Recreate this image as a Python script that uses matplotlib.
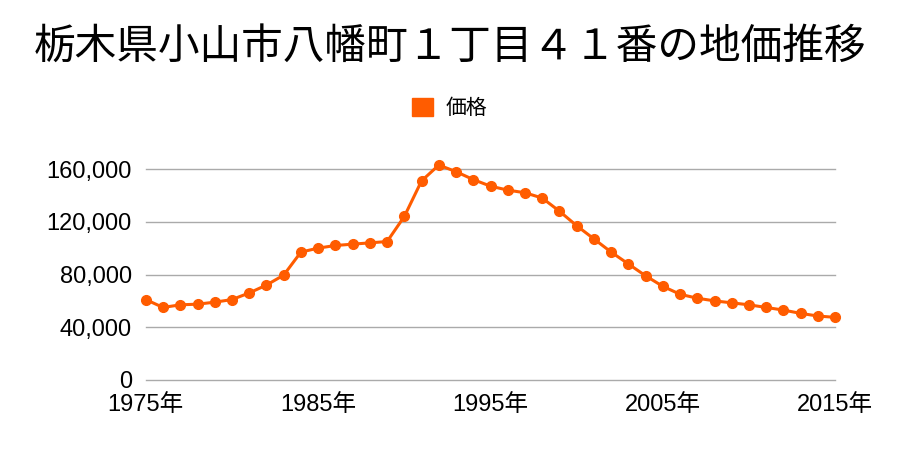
import matplotlib
matplotlib.use('Agg')
import matplotlib.pyplot as plt
from matplotlib.ticker import FuncFormatter

plt.rcParams['font.family'] = ['Liberation Sans', 'Noto Sans CJK JP', 'DejaVu Sans']

years = list(range(1975, 2016))
prices = [
    61000, 55000, 57000, 57500, 59000, 61000, 66000, 72000, 79500, 97000,
    100000, 102000, 103000, 104000, 105000, 124000, 151000, 163000, 158000, 152000,
    147000, 144000, 142000, 138000, 128000, 117000, 107000, 97000, 88000, 79000,
    71000, 65000, 62000, 60000, 58500, 57000, 55000, 53000, 50500, 48500,
    47500,
]
yticks = [0, 40000, 80000, 120000, 160000]
xticks = [1975, 1985, 1995, 2005, 2015]
title = '栃木県小山市八幡町１丁目４１番の地価推移'
series_name = '価格'
color = '#ff5c00'

fig = plt.figure(figsize=(9, 4.5), dpi=100)
ax = fig.add_axes([0.162, 0.1556, 0.766, 0.4688])

ax.plot(years, prices, color=color, lw=2.2, marker='o', ms=7, clip_on=False,
        label=series_name, zorder=3)

ax.set_xlim(1975, 2015)
ax.set_ylim(0, 160000)
ax.set_yticks(yticks)
ax.set_xticks(xticks)
ax.yaxis.set_major_formatter(FuncFormatter(lambda v, p: f'{int(v):,}'))
ax.set_xticklabels([f'{y}年' for y in xticks])
ax.grid(axis='y', color='#aaaaaa', lw=1)
for gl in ax.get_ygridlines():
    gl.set_clip_on(False)
ax.set_axisbelow(True)
for s in ax.spines.values():
    s.set_visible(False)
ax.tick_params(length=0, labelsize=17, colors='black')
ax.tick_params(axis='y', pad=10)
ax.tick_params(axis='x', pad=10)

fig.text(0.5, 0.895, title, ha='center', va='center', fontsize=30,
         family=['Noto Sans CJK JP', 'DejaVu Sans'])
leg = fig.legend(handles=[plt.Rectangle((0, 0), 1, 1, color=color)], labels=[series_name],
                 loc='center', bbox_to_anchor=(0.5, 0.76), frameon=False,
                 prop={'family': ['Noto Sans CJK JP'], 'size': 15},
                 handlelength=1.0, handleheight=1.0, handletextpad=0.6)

fig.savefig('out.png', dpi=100)
